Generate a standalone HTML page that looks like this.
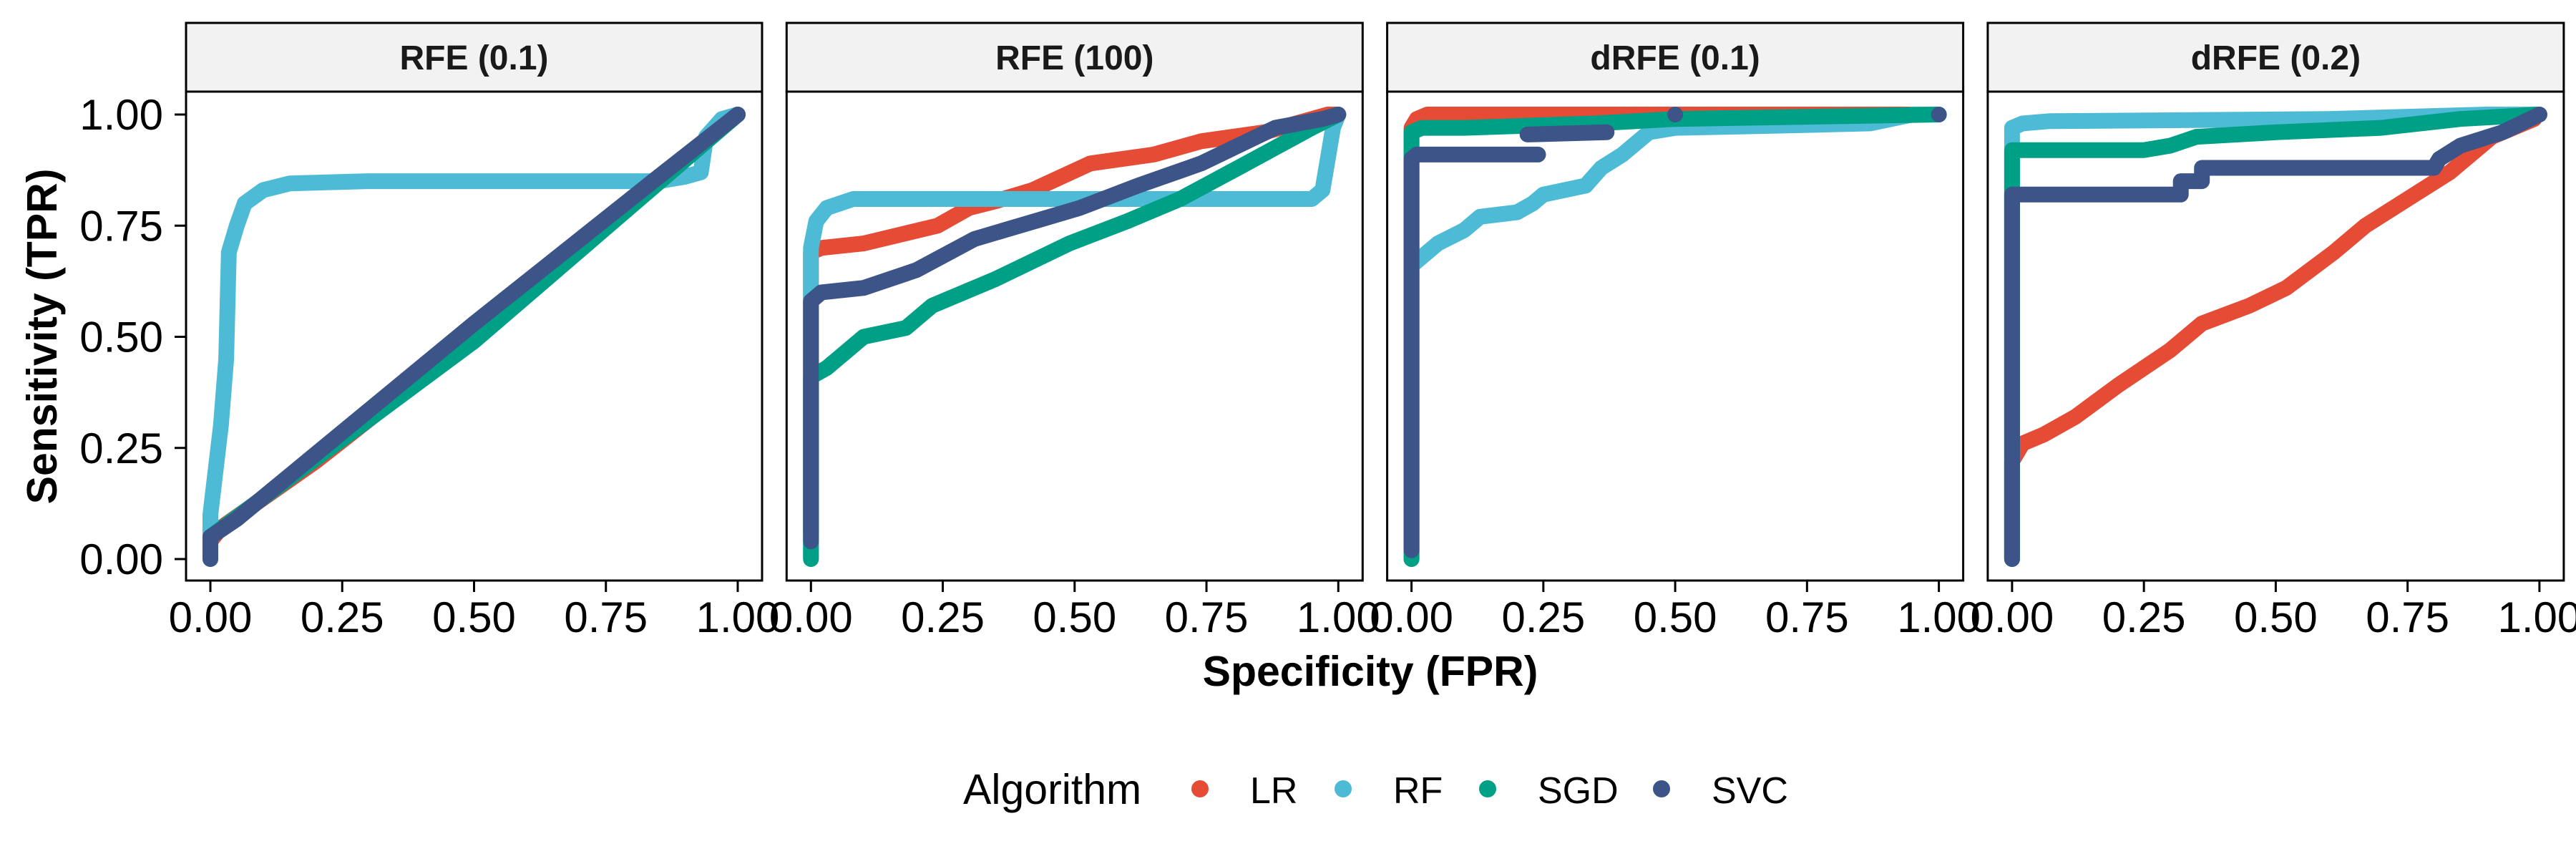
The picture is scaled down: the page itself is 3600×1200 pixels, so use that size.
<!DOCTYPE html>
<html><head><meta charset="utf-8"><style>
html,body{margin:0;padding:0;background:#fff}
svg{display:block}
text{font-family:"Liberation Sans",Arial,sans-serif}
</style></head><body>
<svg id="chart" width="3600" height="1200" viewBox="0 0 3600 1200" xmlns="http://www.w3.org/2000/svg"></svg>
<script>
// ---- data ----
const panelTitles = ["RFE (0.1)", "RFE (100)", "dRFE (0.1)", "dRFE (0.2)"];
const algorithms = ["LR", "RF", "SGD", "SVC"];
const colors = ["#E64B35", "#4DBBD5", "#00A087", "#3C5488"];
const tickValues = [0, 0.25, 0.5, 0.75, 1];
const tickLabels = ["0.00", "0.25", "0.50", "0.75", "1.00"];

// panel 1: RFE (0.1)
const p1_LR_fpr = [0, 0.02, 0.2, 0.5, 0.8, 0.9, 1];
const p1_LR_tpr = [0.04, 0.07, 0.22, 0.5, 0.8, 0.9, 1];
const p1_RF_fpr = [0, 0, 0.02, 0.03, 0.035, 0.05, 0.065, 0.1, 0.15, 0.3, 0.85, 0.9, 0.93, 0.94, 0.97, 1];
const p1_RF_tpr = [0, 0.1, 0.3, 0.45, 0.69, 0.75, 0.8, 0.83, 0.845, 0.85, 0.85, 0.86, 0.87, 0.95, 0.99, 1];
const p1_SGD_fpr = [0, 0, 0.5, 1];
const p1_SGD_tpr = [0.02, 0.05, 0.49, 1];
const p1_SVC_fpr = [0, 0, 0.05, 0.5, 0.85, 1];
const p1_SVC_tpr = [0, 0.05, 0.09, 0.53, 0.86, 1];

// panel 2: RFE (100)
const p2_LR_fpr = [0, 0, 0.02, 0.1, 0.24, 0.3, 0.35, 0.42, 0.53, 0.65, 0.74, 0.86, 0.98, 1];
const p2_LR_tpr = [0.06, 0.69, 0.70, 0.71, 0.75, 0.79, 0.805, 0.83, 0.89, 0.91, 0.94, 0.96, 1, 1];
const p2_RF_fpr = [0, 0, 0.01, 0.03, 0.08, 0.5, 0.95, 0.97, 0.98, 0.99, 1];
const p2_RF_tpr = [0, 0.7, 0.76, 0.79, 0.81, 0.81, 0.81, 0.83, 0.9, 0.97, 1];
const p2_SGD_fpr = [0, 0, 0.03, 0.1, 0.18, 0.23, 0.35, 0.49, 0.6, 0.7, 0.81, 0.95, 1];
const p2_SGD_tpr = [0, 0.41, 0.43, 0.5, 0.52, 0.57, 0.63, 0.71, 0.76, 0.81, 0.88, 0.97, 1];
const p2_SVC_fpr = [0, 0, 0.02, 0.1, 0.2, 0.31, 0.51, 0.62, 0.74, 0.88, 0.97, 1];
const p2_SVC_tpr = [0.04, 0.58, 0.6, 0.61, 0.65, 0.72, 0.79, 0.84, 0.89, 0.97, 0.99, 1];

// panel 3: dRFE (0.1)
const p3_LR_fpr = [0, 0, 0.01, 0.03, 1];
const p3_LR_tpr = [0, 0.97, 0.99, 1, 1];
const p3_RF_fpr = [0, 0, 0.016, 0.05, 0.1, 0.13, 0.2, 0.23, 0.25, 0.33, 0.36, 0.4, 0.45, 0.5, 0.7, 0.87, 0.95, 1];
const p3_RF_tpr = [0, 0.66, 0.676, 0.71, 0.74, 0.77, 0.78, 0.8, 0.82, 0.84, 0.88, 0.91, 0.96, 0.97, 0.975, 0.98, 1, 1];
const p3_SGD_fpr = [0, 0, 0.02, 0.1, 0.35, 0.5, 1];
const p3_SGD_tpr = [0, 0.96, 0.97, 0.97, 0.98, 0.99, 1];
const p3_SVC_fpr = [0, 0, 0.01, 0.24, NaN, 0.22, 0.37, NaN, 0.5, 0.5, NaN, 1, 1];
const p3_SVC_tpr = [0.02, 0.9, 0.91, 0.91, NaN, 0.955, 0.96, NaN, 1, 1, NaN, 1, 1];

// panel 4: dRFE (0.2)
const p4_LR_fpr = [0, 0, 0.02, 0.06, 0.12, 0.2, 0.3, 0.36, 0.45, 0.52, 0.61, 0.67, 0.75, 0.83, 0.91, 0.99];
const p4_LR_tpr = [0, 0.22, 0.26, 0.28, 0.32, 0.39, 0.47, 0.53, 0.57, 0.61, 0.69, 0.75, 0.81, 0.87, 0.95, 0.99];
const p4_RF_fpr = [0, 0, 0.02, 0.07, 0.6, 0.9, 1];
const p4_RF_tpr = [0, 0.97, 0.98, 0.985, 0.99, 1, 1];
const p4_SGD_fpr = [0, 0, 0.25, 0.3, 0.35, 0.5, 0.7, 0.85, 1];
const p4_SGD_tpr = [0, 0.92, 0.92, 0.93, 0.95, 0.96, 0.97, 0.99, 1];
const p4_SVC_fpr = [0, 0, 0.32, 0.32, 0.36, 0.36, 0.8, 0.81, 0.85, 0.93, 1];
const p4_SVC_tpr = [0, 0.82, 0.82, 0.85, 0.85, 0.88, 0.88, 0.9, 0.93, 0.96, 1];

const panelData = [
  [[p1_LR_fpr,p1_LR_tpr],[p1_RF_fpr,p1_RF_tpr],[p1_SGD_fpr,p1_SGD_tpr],[p1_SVC_fpr,p1_SVC_tpr]],
  [[p2_LR_fpr,p2_LR_tpr],[p2_RF_fpr,p2_RF_tpr],[p2_SGD_fpr,p2_SGD_tpr],[p2_SVC_fpr,p2_SVC_tpr]],
  [[p3_LR_fpr,p3_LR_tpr],[p3_RF_fpr,p3_RF_tpr],[p3_SGD_fpr,p3_SGD_tpr],[p3_SVC_fpr,p3_SVC_tpr]],
  [[p4_LR_fpr,p4_LR_tpr],[p4_RF_fpr,p4_RF_tpr],[p4_SGD_fpr,p4_SGD_tpr],[p4_SVC_fpr,p4_SVC_tpr]]
];

// ---- layout ----
const NS = "http://www.w3.org/2000/svg";
const svg = document.getElementById("chart");
function mk(tag, attrs, parent) {
  const e = document.createElementNS(NS, tag);
  for (const k in attrs) e.setAttribute(k, attrs[k]);
  (parent || svg).appendChild(e);
  return e;
}
const panelLeft0 = 260, panelStep = 839.3, panelW = 805;
const stripTop = 32, stripBot = 128, panelBot = 811;
const xPad = 34, y1px = 160, y0px = 781;
function yScale(v) { return y0px + (y1px - y0px) * v; }

for (let p = 0; p < 4; p++) {
  const L = panelLeft0 + p * panelStep;
  const x0 = L + xPad, x1 = L + panelW - xPad;
  const xScale = v => x0 + (x1 - x0) * v;
  const g = mk("g", {});
  
  

  const bg = mk("rect", {x: L, y: stripBot, width: panelW, height: panelBot - stripBot, fill: "#fff"}, g);
  
  

  for (let s = 0; s < 4; s++) {
    const fx = panelData[p][s][0], ty = panelData[p][s][1];
    let segs = [[]];
    for (let i = 0; i < fx.length; i++) {
      if (isNaN(fx[i])) { segs.push([]); continue; }
      segs[segs.length - 1].push(xScale(fx[i]).toFixed(1) + "," + yScale(ty[i]).toFixed(1));
    }
    segs.forEach(seg => {
      if (!seg.length) return;
      const pl = mk("polyline", {points: seg.join(" "), fill: "none", stroke: colors[s], "stroke-width": 22, "stroke-linecap": "round", "stroke-linejoin": "round"}, g);
      
      
    });
  }

  const border = mk("rect", {x: L, y: stripBot, width: panelW, height: panelBot - stripBot, fill: "none", stroke: "#000", "stroke-width": 3}, g);
  
  

  const strip = mk("rect", {x: L, y: stripTop, width: panelW, height: stripBot - stripTop, fill: "#F2F2F2", stroke: "#000", "stroke-width": 3}, g);
  
  
  const st = mk("text", {x: L + panelW / 2, y: 97, "text-anchor": "middle", "font-size": 48, "font-weight": "bold", fill: "#1A1A1A"}, g);
  st.textContent = panelTitles[p];
  
  

  tickValues.forEach((v, i) => {
    const tx = xScale(v);
    const tk = mk("line", {x1: tx, x2: tx, y1: panelBot, y2: panelBot + 16, stroke: "#000", "stroke-width": 3}, g);
    
    
    const tl = mk("text", {x: tx, y: 883, "text-anchor": "middle", "font-size": 60, fill: "#000"}, g);
    tl.textContent = tickLabels[i];
    
    
  });

  if (p === 0) {
    tickValues.forEach((v, i) => {
      const ty = yScale(v);
      const tk = mk("line", {x1: L - 16, x2: L, y1: ty, y2: ty, stroke: "#000", "stroke-width": 3}, g);
      
      
      const tl = mk("text", {x: L - 32, y: ty + 21, "text-anchor": "end", "font-size": 60, fill: "#000"}, g);
      tl.textContent = tickLabels[i];
      
      
    });
  }
}

const xt = mk("text", {x: 1915, y: 958, "text-anchor": "middle", "font-size": 59, "font-weight": "bold", fill: "#000"});
xt.textContent = "Specificity (FPR)";


const yt = mk("text", {x: 0, y: 0, "text-anchor": "middle", "font-size": 59, "font-weight": "bold", fill: "#000", transform: "translate(79,470) rotate(-90)"});
yt.textContent = "Sensitivity (TPR)";



const lg = mk("g", {});


const lt = mk("text", {x: 1346, y: 1123, "font-size": 59, fill: "#000"}, lg);
lt.textContent = "Algorithm";


const legendDotX = [1677, 1877, 2079, 2322];
algorithms.forEach((a, i) => {
  const c = mk("circle", {cx: legendDotX[i], cy: 1102, r: 12, fill: colors[i]}, lg);
  
  
  const t = mk("text", {x: legendDotX[i] + 70, y: 1122, "font-size": 52, fill: "#000"}, lg);
  t.textContent = a;
  
  
});
</script>
</body></html>
